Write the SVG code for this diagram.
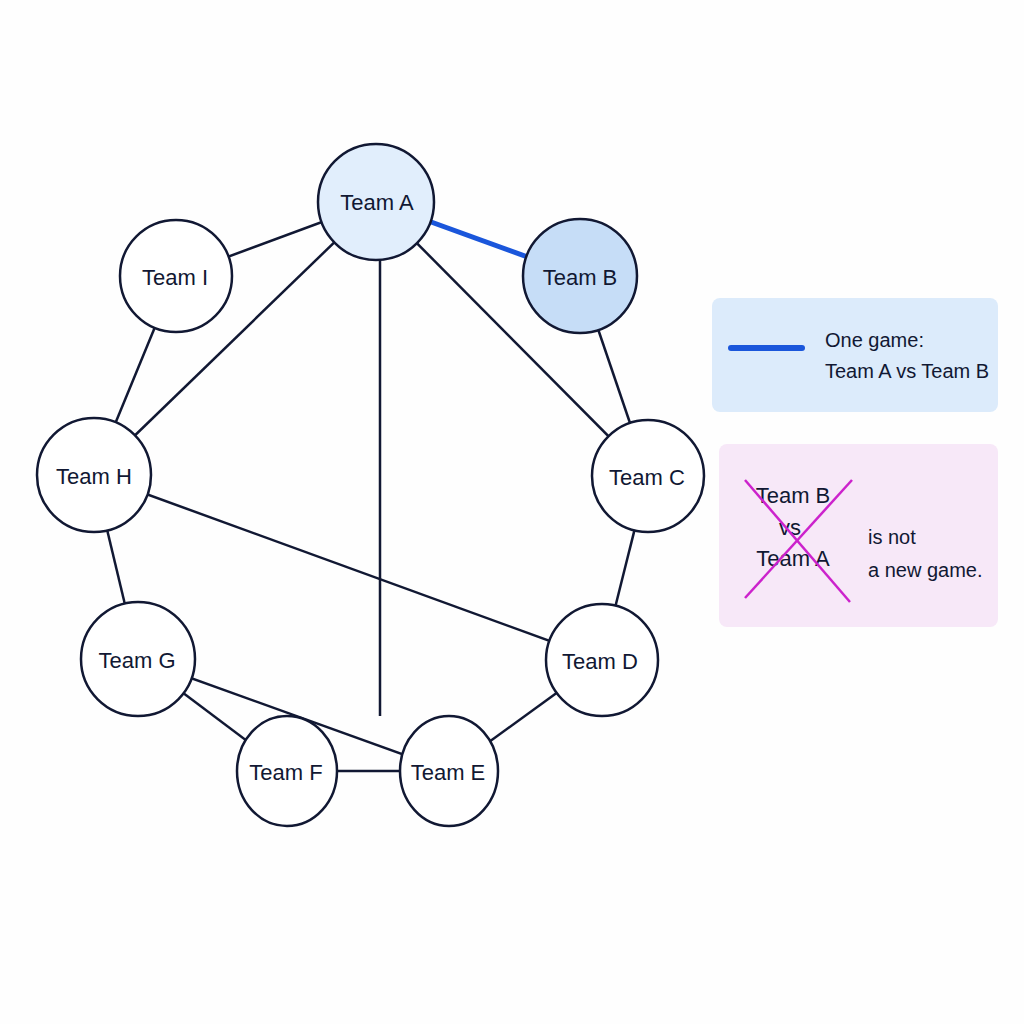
<svg xmlns="http://www.w3.org/2000/svg" width="1024" height="1024" viewBox="0 0 1024 1024">
<style>
.n{fill:#fff;stroke:#111833;stroke-width:2.5}
.t{font-family:"Liberation Sans",Arial,sans-serif;font-size:22px;fill:#111833;text-anchor:middle;dominant-baseline:central}
.l{font-family:"Liberation Sans",Arial,sans-serif;font-size:20px;fill:#111833;dominant-baseline:central}
.e{stroke:#111833;stroke-width:2.5;fill:none}
</style>
<rect width="1024" height="1024" fill="#fefefe"/>
<g id="connectors">
<line class="e" x1="376" y1="202" x2="176" y2="276"/>
<line class="e" x1="376" y1="202" x2="94" y2="475"/>
<line class="e" x1="380" y1="260" x2="380" y2="716"/>
<line class="e" x1="376" y1="202" x2="648" y2="476"/>
<line class="e" x1="580" y1="276" x2="648" y2="476"/>
<line class="e" x1="176" y1="276" x2="94" y2="475"/>
<line class="e" x1="94" y1="475" x2="138" y2="659"/>
<line class="e" x1="94" y1="475" x2="602" y2="660"/>
<line class="e" x1="138" y1="659" x2="449" y2="771"/>
<line class="e" x1="138" y1="659" x2="287" y2="771"/>
<line class="e" x1="287" y1="771" x2="449" y2="771"/>
<line class="e" x1="449" y1="771" x2="602" y2="660"/>
<line class="e" x1="648" y1="476" x2="602" y2="660"/>
<line x1="376" y1="202" x2="580" y2="276" stroke="#1a56db" stroke-width="5"/>
</g>
<g id="A"><circle class="n" cx="376" cy="202" r="58" fill="#e1eefc" style="fill:#e1eefc"/><text class="t" x="377" y="202">Team A</text></g>
<g id="B"><circle class="n" cx="580" cy="276" r="57" style="fill:#c6ddf7"/><text class="t" x="580" y="277">Team B</text></g>
<g id="I"><circle class="n" cx="176" cy="276" r="56"/><text class="t" x="175" y="277">Team I</text></g>
<g id="H"><circle class="n" cx="94" cy="475" r="57"/><text class="t" x="94" y="476">Team H</text></g>
<g id="C"><circle class="n" cx="648" cy="476" r="56"/><text class="t" x="647" y="477">Team C</text></g>
<g id="G"><circle class="n" cx="138" cy="659" r="57"/><text class="t" x="137" y="660">Team G</text></g>
<g id="D"><circle class="n" cx="602" cy="660" r="56"/><text class="t" x="600" y="661">Team D</text></g>
<g id="F"><ellipse class="n" cx="287" cy="771" rx="50" ry="55"/><text class="t" x="286" y="772">Team F</text></g>
<g id="E"><ellipse class="n" cx="449" cy="771" rx="49" ry="55"/><text class="t" x="448" y="772">Team E</text></g>
<g id="legend1">
<rect x="712" y="298" width="286" height="114" rx="8" fill="#dcebfb"/>
<line x1="731" y1="348" x2="802" y2="348" stroke="#1a56db" stroke-width="6" stroke-linecap="round"/>
<text class="l" x="825" y="340">One game:</text>
<text class="l" x="825" y="371">Team A vs Team B</text>
</g>
<g id="legend2">
<rect x="719" y="444" width="279" height="183" rx="8" fill="#f7e8f8"/>
<text class="t" x="793" y="495">Team B</text>
<text class="t" x="790" y="527">vs</text>
<text class="t" x="793" y="558">Team A</text>
<line x1="745" y1="480" x2="850" y2="602" stroke="#cc22cc" stroke-width="2.5"/>
<line x1="745" y1="598" x2="852" y2="480" stroke="#cc22cc" stroke-width="2.5"/>
<text class="l" x="868" y="537">is not</text>
<text class="l" x="868" y="570">a new game.</text>
</g>
</svg>
